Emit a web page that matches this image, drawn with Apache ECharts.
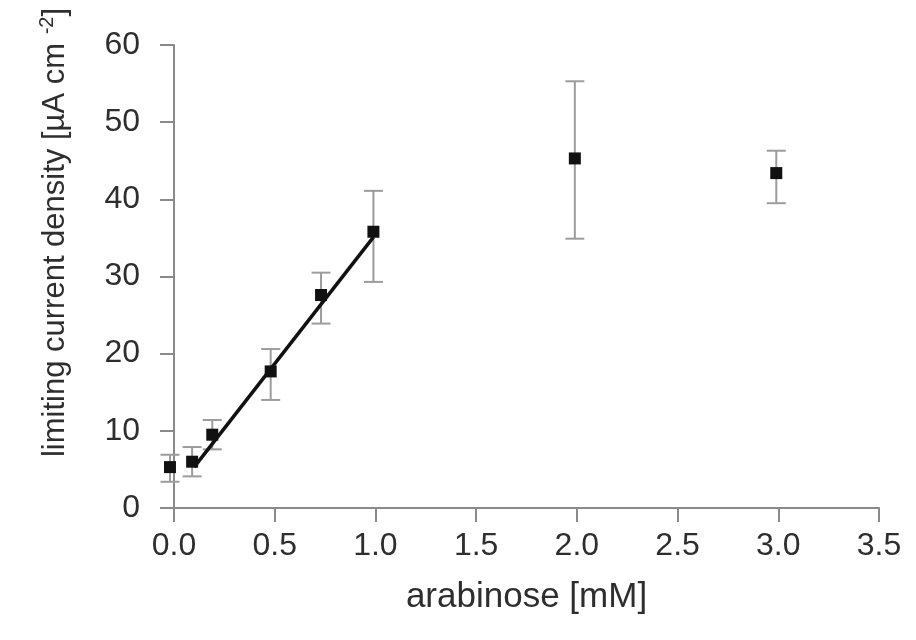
<!DOCTYPE html>
<html>
<head>
<meta charset="utf-8">
<script src="https://cdn.jsdelivr.net/npm/echarts@6/dist/echarts.min.js"></script>
<style>
html,body{margin:0;padding:0;background:#fff;}
#chart{width:916px;height:640px;}
</style>
</head>
<body>
<div id="chart"></div>
<script>
// Data
var arabinose = [-0.02, 0.09, 0.19, 0.48, 0.73, 0.99, 1.99, 2.99];
var currentDensity = [5.3, 6.0, 9.5, 17.7, 27.6, 35.8, 45.3, 43.4];
var errLow = [3.4, 4.1, 7.6, 14.0, 23.9, 29.3, 34.9, 39.5];
var errHigh = [6.9, 7.9, 11.4, 20.6, 30.5, 41.1, 55.3, 46.3];
var fitX = [0.1, 0.99];
var fitY = [5.3, 35.1];
var xTicks = ['0.0', '0.5', '1.0', '1.5', '2.0', '2.5', '3.0', '3.5'];
var yTicks = ['0', '10', '20', '30', '40', '50', '60'];

var FONT = "'Liberation Sans', Arial, sans-serif";
var TXT = '#2e2e2e';
var AX = '#8a8a8a';

var points = arabinose.map(function (x, i) { return [x, currentDensity[i]]; });
var bars = arabinose.map(function (x, i) { return [x, errLow[i], errHigh[i]]; });
var fit = fitX.map(function (x, i) { return [x, fitY[i]]; });

var chart = echarts.init(document.getElementById('chart'), null, {renderer: 'canvas'});
chart.setOption({
  animation: false,
  backgroundColor: '#fff',
  grid: {left: 174, right: 37, top: 45, bottom: 132, containLabel: false},
  xAxis: {
    type: 'value', min: 0, max: 3.5, interval: 0.5,
    name: 'arabinose [mM]', nameLocation: 'middle', nameGap: 72,
    nameTextStyle: {fontFamily: FONT, fontSize: 35, color: TXT},
    axisLine: {show: true, onZero: false, lineStyle: {color: AX, width: 2}},
    axisTick: {show: true, inside: false, length: 14, lineStyle: {color: AX, width: 2}},
    axisLabel: {
      margin: 22, fontFamily: FONT, fontSize: 32, color: TXT,
      formatter: function (v) { return xTicks[Math.round(v / 0.5)]; }
    },
    splitLine: {show: false}
  },
  yAxis: {
    type: 'value', min: 0, max: 60, interval: 10,
    name: '{n|limiting current density [µA cm }{s|-2}{n|]}',
    nameLocation: 'middle', nameRotate: 90, nameGap: 101,
    nameTextStyle: {
      fontFamily: FONT, fontSize: 31, color: TXT, padding: [0, 0, 0, 88],
      rich: {
        n: {fontFamily: FONT, fontSize: 31, color: TXT, lineHeight: 36},
        s: {fontFamily: FONT, fontSize: 20, color: TXT, lineHeight: 36, verticalAlign: 'top'}
      }
    },
    axisLine: {show: true, onZero: false, lineStyle: {color: AX, width: 2}},
    axisTick: {show: true, inside: false, length: 14, lineStyle: {color: AX, width: 2}},
    axisLabel: {
      margin: 34, fontFamily: FONT, fontSize: 32, color: TXT,
      formatter: function (v) { return yTicks[Math.round(v / 10)]; }
    },
    splitLine: {show: false}
  },
  series: [
    {
      type: 'custom',
      z: 1,
      clip: false,
      data: bars,
      renderItem: function (params, api) {
        var x = api.value(0);
        var lo = api.coord([x, api.value(1)]);
        var hi = api.coord([x, api.value(2)]);
        var hw = 9.5;
        var st = {stroke: '#9c9c9c', lineWidth: 2};
        return {
          type: 'group',
          children: [
            {type: 'line', shape: {x1: lo[0], y1: lo[1], x2: hi[0], y2: hi[1]}, style: st},
            {type: 'line', shape: {x1: lo[0] - hw, y1: lo[1], x2: lo[0] + hw, y2: lo[1]}, style: st},
            {type: 'line', shape: {x1: hi[0] - hw, y1: hi[1], x2: hi[0] + hw, y2: hi[1]}, style: st}
          ]
        };
      }
    },
    {
      type: 'scatter',
      z: 2,
      clip: false,
      data: points,
      symbol: 'rect',
      symbolSize: 12,
      itemStyle: {color: '#111', opacity: 1}
    },
    {
      type: 'line',
      z: 3,
      data: fit,
      showSymbol: false,
      symbol: 'none',
      lineStyle: {color: '#111', width: 3.5}
    }
  ]
});
</script>
</body>
</html>
